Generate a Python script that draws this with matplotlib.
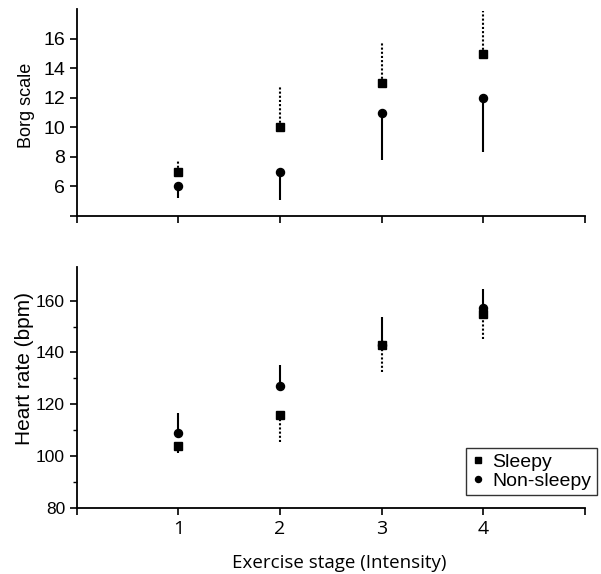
"""Borg scale and heart rate by exercise stage, sleepy vs non-sleepy."""
import matplotlib.pyplot as plt
from matplotlib.ticker import FixedLocator

stages = [1, 2, 3, 4]

# Borg scale: sleepy (upper error, dotted), non-sleepy (lower error, solid)
borg_sleepy = [7, 10, 13, 15]
borg_sleepy_err = [0.8, 2.8, 2.75, 2.9]
borg_nonsleepy = [6, 7, 11, 12]
borg_nonsleepy_err = [0.75, 1.9, 3.2, 3.7]

# Heart rate: sleepy (lower error, dotted), non-sleepy (upper error, solid)
hr_sleepy = [104, 116, 143, 155]
hr_sleepy_err = [2.6, 10.6, 10.6, 10.0]
hr_nonsleepy = [109, 127, 143, 157]
hr_nonsleepy_err = [7.7, 8.0, 10.6, 7.5]

plt.rcParams["font.family"] = ["Liberation Sans", "DejaVu Sans"]
calib = ["Open Sans", "DejaVu Sans"]

fig = plt.figure(figsize=(6.01, 5.74), dpi=100)
ax1 = fig.add_axes([0.128, 0.6237, 0.845, 0.3603])
ax2 = fig.add_axes([0.128, 0.115, 0.845, 0.42])

zero = [0, 0, 0, 0]

# top panel
eb = ax1.errorbar(stages, borg_sleepy, yerr=[zero, borg_sleepy_err], fmt="none",
                  ecolor="black", elinewidth=1.5, capsize=0)
eb[2][0].set_linestyle((0, (1, 1)))
ax1.errorbar(stages, borg_nonsleepy, yerr=[borg_nonsleepy_err, zero], fmt="none",
             ecolor="black", elinewidth=1.5, capsize=0)
ax1.plot(stages, borg_sleepy, "s", color="black", ms=5.3, ls="none")
ax1.plot(stages, borg_nonsleepy, "o", color="black", ms=5.8, ls="none")
ax1.set_ylim(4, 18)
ax1.set_yticks([4, 6, 8, 10, 12, 14, 16])
ax1.set_yticklabels(["", "6", "8", "10", "12", "14", "16"])
ax1.tick_params(axis="y", labelsize=14)
ax1.set_ylabel("Borg scale", fontsize=13)
ax1.yaxis.set_label_coords(-0.082, 0.536)

# bottom panel
ax2.errorbar(stages, hr_nonsleepy, yerr=[zero, hr_nonsleepy_err], fmt="none",
             ecolor="black", elinewidth=1.5, capsize=0)
eb = ax2.errorbar(stages, hr_sleepy, yerr=[hr_sleepy_err, zero], fmt="none",
                  ecolor="black", elinewidth=1.5, capsize=0)
eb[2][0].set_linestyle((0, (1, 1)))
ax2.plot(stages, hr_nonsleepy, "o", color="black", ms=5.8, ls="none", label="Non-sleepy")
ax2.plot(stages, hr_sleepy, "s", color="black", ms=5.3, ls="none", label="Sleepy")
ax2.set_ylim(80, 173)
ax2.set_yticks([80, 100, 120, 140, 160])
ax2.yaxis.set_minor_locator(FixedLocator([90, 110, 130, 150]))
ax2.tick_params(axis="y", which="minor", length=3, width=1)
ax2.tick_params(axis="y", labelsize=12.5)
ax2.set_ylabel("Heart rate (bpm)", fontsize=15)
ax2.yaxis.set_label_coords(-0.084, 0.577)
ax2.set_xticklabels(["", "1", "2", "3", "4", ""], family=calib, fontsize=14)
ax2.set_xlabel("Exercise stage (Intensity)", family=calib, fontsize=13.5)
ax2.xaxis.set_label_coords(0.516, -0.19)

handles, labels = ax2.get_legend_handles_labels()
leg = ax2.legend(handles[::-1], labels[::-1], loc="lower right",
                 bbox_to_anchor=(0.994, 0.137), bbox_transform=fig.transFigure,
                 fontsize=14, frameon=True, fancybox=False, edgecolor="black",
                 handlelength=0.6, handletextpad=0.45, borderpad=0.3, labelspacing=0.05,
                 markerscale=0.75, borderaxespad=0)
leg.get_frame().set_linewidth(1)

for ax in (ax1, ax2):
    ax.set_xlim(0, 5)
    ax.set_xticks([0, 1, 2, 3, 4, 5])
    ax.spines["top"].set_visible(False)
    ax.spines["right"].set_visible(False)
    ax.spines["left"].set_linewidth(1.3)
    ax.spines["bottom"].set_linewidth(1.3)
    ax.tick_params(axis="both", which="major", length=5, width=1.2)
ax1.tick_params(axis="x", labelbottom=False)

fig.savefig("out.png", dpi=100)
